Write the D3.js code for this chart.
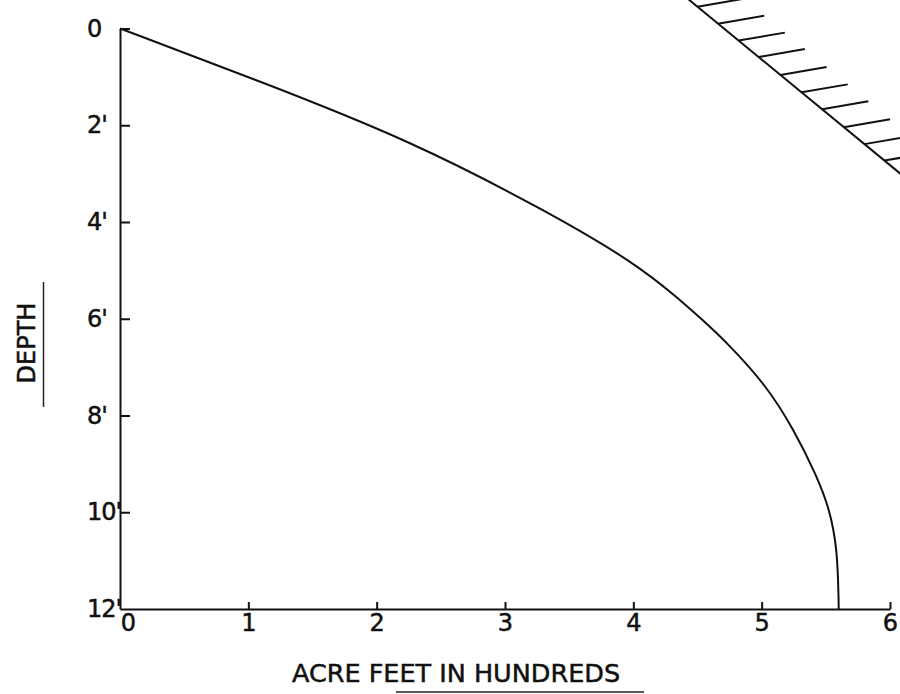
<!DOCTYPE html>
<html>
<head>
<meta charset="utf-8">
<script src="https://cdn.jsdelivr.net/npm/d3@7"></script>
<style>
  html, body { margin: 0; padding: 0; background: #fff; }
  svg { display: block; }
  text { font-family: "DejaVu Sans", "Liberation Sans", sans-serif; fill: #111; stroke: #111; stroke-width: 0.5px; }
</style>
</head>
<body>
<script>
// ---- data (acre-feet in hundreds vs depth in feet) ----
const xTickValues = [0, 1, 2, 3, 4, 5, 6];
const xTickLabels = ["0", "1", "2", "3", "4", "5", "6"];
const yTickValues = [0, 2, 4, 6, 8, 10, 12];
const yTickLabels = ["0", "2'", "4'", "6'", "8'", "10'", "12'"];
const curveAcreFeet = [0, 1.09, 2.26, 3.35, 4.02, 4.36, 4.52, 4.73, 5.04, 5.25, 5.43, 5.53, 5.59, 5.60, 5.60];
const curveDepth    = [0, 1.09, 2.31, 3.81, 4.86, 5.60, 5.98, 6.49, 7.39, 8.29, 9.25, 9.94, 10.76, 11.87, 12];
// hatched boundary (top right), in chart units
const boundaryAcreFeet = [4.39, 6.14];
const boundaryDepth = [-0.69, 3.13];
const hatchDepths = [-0.45, -0.10, 0.25, 0.59, 0.96, 1.32, 1.67, 2.04, 2.39, 2.73];
const hatchOffset = [0.36, -0.165]; // acre-feet, depth
const xTitle = "ACRE FEET IN HUNDREDS";
const yTitle = "DEPTH";

// ---- layout ----
const W = 900, H = 694;
const svg = d3.select("body").append("svg").attr("width", W).attr("height", H);

const x = d3.scaleLinear().domain([0, 6]).range([120, 890]);
const y = d3.scaleLinear().domain([0, 12]).range([28.5, 609]);

// y axis
const yAxis = d3.axisLeft(y)
  .tickValues(yTickValues)
  .tickFormat((d, i) => yTickLabels[i])
  .tickSizeInner(-10).tickSizeOuter(0).tickPadding(0);
const gy = svg.append("g").attr("transform", `translate(${x(0)},0)`).call(yAxis);
gy.select(".domain").attr("stroke", "#111").attr("stroke-width", 2);
gy.selectAll(".tick line").attr("stroke", "#111").attr("stroke-width", 2);
gy.selectAll(".tick text")
  .attr("x", 87 - x(0)).attr("text-anchor", "start")
  .attr("font-size", 24).attr("letter-spacing", "-1px")
  .style("font-family", "'DejaVu Sans', sans-serif");
gy.select(".tick:last-of-type line").remove();

// x axis
const xAxis = d3.axisBottom(x)
  .tickValues(xTickValues)
  .tickFormat((d, i) => xTickLabels[i])
  .tickSizeInner(-7).tickSizeOuter(0).tickPadding(5);
const gx = svg.append("g").attr("transform", `translate(0,${y(12)})`).call(xAxis);
gx.select(".domain").attr("stroke", "#111").attr("stroke-width", 2);
gx.selectAll(".tick line").attr("stroke", "#111").attr("stroke-width", 2);
gx.selectAll(".tick text")
  .attr("font-size", 24)
  .attr("dx", d => d === 0 ? 8 : 0)
  .style("font-family", "'DejaVu Sans', sans-serif");
gx.select(".tick:first-of-type line").remove();

// main curve
const pts = curveAcreFeet.map((v, i) => [v, curveDepth[i]]);
const line = d3.line().x(d => x(d[0])).y(d => y(d[1])).curve(d3.curveBasis);
svg.append("path").datum(pts)
  .attr("d", line)
  .attr("fill", "none").attr("stroke", "#111").attr("stroke-width", 2);

// hatched boundary
const bx = d => boundaryAcreFeet[0] + (d - boundaryDepth[0]) *
  (boundaryAcreFeet[1] - boundaryAcreFeet[0]) / (boundaryDepth[1] - boundaryDepth[0]);
svg.append("line")
  .attr("x1", x(boundaryAcreFeet[0])).attr("y1", y(boundaryDepth[0]))
  .attr("x2", x(boundaryAcreFeet[1])).attr("y2", y(boundaryDepth[1]))
  .attr("stroke", "#111").attr("stroke-width", 2);
svg.append("g").selectAll("line").data(hatchDepths).join("line")
  .attr("x1", d => x(bx(d))).attr("y1", d => y(d))
  .attr("x2", d => x(bx(d) + hatchOffset[0])).attr("y2", d => y(d + hatchOffset[1]))
  .attr("stroke", "#111").attr("stroke-width", 2);

// titles
svg.append("text")
  .attr("x", 456).attr("y", 682)
  .attr("text-anchor", "middle").attr("font-size", 25.5)
  .text(xTitle);
svg.append("line")
  .attr("x1", 396).attr("x2", 644).attr("y1", 692).attr("y2", 692)
  .attr("stroke", "#222").attr("stroke-width", 1.5);

svg.append("text")
  .attr("transform", "translate(35,343) rotate(-90)")
  .attr("text-anchor", "middle").attr("font-size", 24)
  .text(yTitle);
svg.append("line")
  .attr("x1", 43.5).attr("x2", 43.5).attr("y1", 282).attr("y2", 407)
  .attr("stroke", "#222").attr("stroke-width", 1.5);
</script>
</body>
</html>
